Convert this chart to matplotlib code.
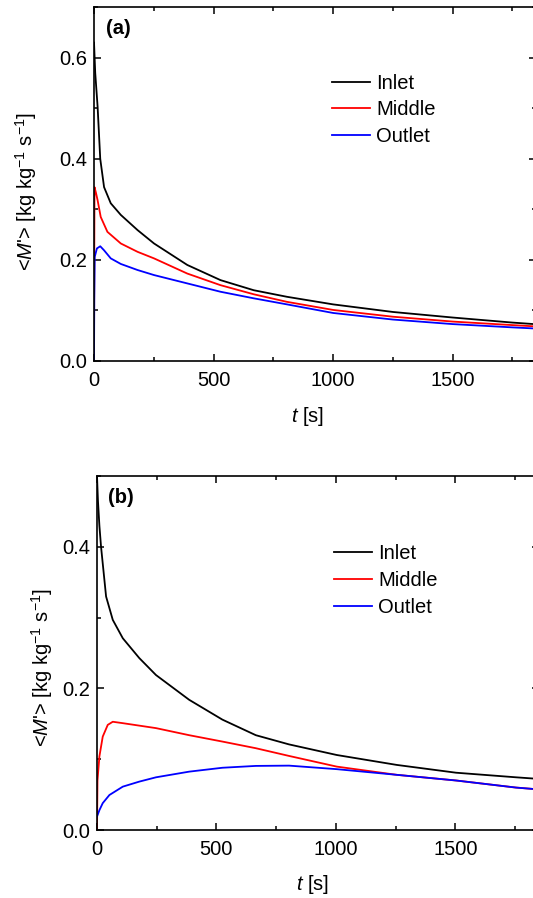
import numpy as np
import matplotlib
matplotlib.use('Agg')
import matplotlib.pyplot as plt
from matplotlib.ticker import MultipleLocator, FormatStrFormatter

plt.rcParams['font.family'] = ['Liberation Sans', 'DejaVu Sans']
plt.rcParams['mathtext.fontset'] = 'custom'
plt.rcParams['mathtext.rm'] = 'Liberation Sans'
plt.rcParams['mathtext.it'] = 'Liberation Sans:italic'

# ---- panel (a) values ----
t_a_inlet = [0, 5, 15, 26, 42, 70, 112, 182, 251, 390, 529, 668, 807, 1000, 1250, 1500, 1750, 1900]
inlet_a = [0.63, 0.57, 0.503, 0.40, 0.344, 0.312, 0.289, 0.259, 0.2325, 0.190, 0.160, 0.140, 0.127,
           0.112, 0.097, 0.086, 0.076, 0.071]

t_a_middle = [0, 1, 2, 8, 15, 28, 56, 112, 182, 251, 390, 529, 668, 807, 1000, 1250, 1500, 1750, 1900]
middle_a = [0.0, 0.21, 0.344, 0.333, 0.318, 0.285, 0.2555, 0.2325, 0.216, 0.203, 0.173, 0.150, 0.132,
            0.117, 0.101, 0.0876, 0.078, 0.071, 0.067]

t_a_outlet = [0, 1, 3, 12, 26, 42, 70, 112, 182, 251, 390, 529, 668, 807, 1000, 1250, 1500, 1750, 1900]
outlet_a = [0.0, 0.12, 0.206, 0.2227, 0.227, 0.219, 0.203, 0.192, 0.180, 0.170, 0.1535, 0.137, 0.124,
            0.112, 0.095, 0.082, 0.073, 0.0665, 0.063]

# ---- panel (b) values ----
t_b_inlet = [0, 4, 10, 17, 38, 66, 108, 177, 247, 386, 525, 665, 804, 1004, 1255, 1503, 1754, 1900]
inlet_b = [0.50, 0.465, 0.43, 0.40, 0.330, 0.297, 0.271, 0.243, 0.219, 0.184, 0.156, 0.134, 0.121,
           0.106, 0.092, 0.081, 0.0745, 0.071]

t_b_middle = [0, 2, 10, 24, 45, 66, 108, 247, 386, 525, 665, 804, 1004, 1255, 1503, 1754, 1900]
middle_b = [0.0, 0.07, 0.104, 0.132, 0.1486, 0.153, 0.151, 0.144, 0.134, 0.125, 0.1156, 0.1047,
            0.0896, 0.078, 0.070, 0.060, 0.056]

t_b_outlet = [0, 10, 24, 52, 108, 177, 247, 386, 525, 665, 804, 1004, 1255, 1503, 1754, 1900]
outlet_b = [0.019, 0.028, 0.038, 0.0495, 0.0613, 0.0684, 0.0745, 0.0825, 0.088, 0.0906, 0.091,
            0.086, 0.078, 0.070, 0.060, 0.056]

fs = 14.5

fig = plt.figure(figsize=(5.33, 8.98), dpi=100)
ax1 = fig.add_axes([0.1764, 0.598, 0.830, 0.394])
ax2 = fig.add_axes([0.182, 0.0757, 0.829, 0.394])

def style(ax, ymax, tag, ylab_xy, xlab_xy, leg_anchor):
    ax.set_xlim(0, 1850)
    ax.set_ylim(0, ymax)
    ax.xaxis.set_major_locator(MultipleLocator(500))
    ax.xaxis.set_minor_locator(MultipleLocator(250))
    ax.yaxis.set_major_locator(MultipleLocator(0.2))
    ax.yaxis.set_minor_locator(MultipleLocator(0.1))
    ax.yaxis.set_major_formatter(FormatStrFormatter('%.1f'))
    ax.tick_params(which='both', direction='in', top=True, right=True, labelsize=fs, width=1.1)
    ax.tick_params(which='major', length=5)
    ax.tick_params(which='minor', length=3)
    ax.tick_params(axis='x', pad=7)
    ax.tick_params(axis='y', pad=5)
    for s in ax.spines.values():
        s.set_linewidth(1.2)
    ax.set_ylabel(r"<$\mathit{M}$'> [kg kg$^{-1}$ s$^{-1}$]", fontsize=fs)
    ax.yaxis.set_label_coords(*ylab_xy)
    ax.set_xlabel(r"$\mathit{t}$ [s]", fontsize=fs)
    ax.xaxis.set_label_coords(*xlab_xy)
    ax.text(0.026, 0.94, tag, transform=ax.transAxes, fontsize=14.5, fontweight='bold', va='center')
    ax.legend(loc='upper left', bbox_to_anchor=leg_anchor, frameon=False, fontsize=fs,
              handlelength=1.9, handletextpad=0.3, labelspacing=0.38, borderaxespad=0)

ax1.plot(t_a_inlet, inlet_a, color='black', lw=1.3, label='Inlet')
ax1.plot(t_a_middle, middle_a, color='red', lw=1.3, label='Middle')
ax1.plot(t_a_outlet, outlet_a, color='blue', lw=1.3, label='Outlet')
style(ax1, 0.7, '(a)', (-0.124, 0.478), (0.482, -0.124), (0.52, 0.835))

ax2.plot(t_b_inlet, inlet_b, color='black', lw=1.3, label='Inlet')
ax2.plot(t_b_middle, middle_b, color='red', lw=1.3, label='Middle')
ax2.plot(t_b_outlet, outlet_b, color='blue', lw=1.3, label='Outlet')
style(ax2, 0.5, '(b)', (-0.096, 0.458), (0.487, -0.121), (0.518, 0.83))

fig.savefig('out.png', dpi=100)
